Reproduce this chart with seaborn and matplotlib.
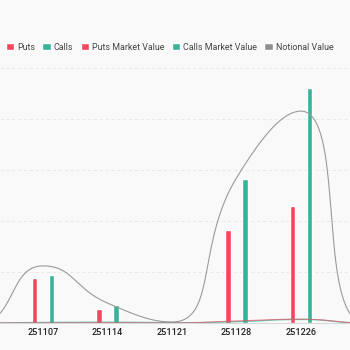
import numpy as np
import pandas as pd
import matplotlib
matplotlib.use("Agg")
import matplotlib.pyplot as plt
from matplotlib.patches import Patch
import seaborn as sns

# ---- data (the first two and last two expiries lie outside the visible zoom window) ----
expiries = ["251024", "251031", "251107", "251114", "251121", "251128", "251226", "260130", "260227"]
puts = [0, 0, 17.6, 5.5, 0, 36.5, 45.9, 0, 0]
calls = [0, 0, 18.8, 7.1, 0, 56.5, 92.2, 0, 0]
puts_mv = [0, 0, 0, 0.1, 0, 0.8, 1.5, 0, 0]
calls_mv = [0, 0, 0.2, 0.3, 0.1, 0.5, 1.4, 0, 0]
notional = [0, 0, 22.4, 7.8, 0.4, 56.9, 83.1, 0, 0]

RED = "#f6465d"
TEAL = "#38b39a"
GRAY = "#8f8f8f"
BG = "#f9f9f9"

sns.set_theme(style="white")
plt.rcParams["font.family"] = ["Roboto", "DejaVu Sans"]

fig = plt.figure(figsize=(3.5, 3.5), dpi=100, facecolor=BG)
ax = fig.add_axes([0, 27 / 350, 1, (323 - 68) / 350])
ax.set_facecolor(BG)

df = pd.DataFrame({
    "expiry": expiries * 2,
    "value": puts + calls,
    "type": ["Puts"] * len(expiries) + ["Calls"] * len(expiries),
})
sns.barplot(data=df, x="expiry", y="value", hue="type", order=expiries,
            hue_order=["Puts", "Calls"], palette=[RED, TEAL],
            width=0.528, gap=0.70, dodge=True, saturation=1,
            legend=False, ax=ax, zorder=3)

ax.set_xlim(1.333, 6.76)
ax.set_ylim(0, 100)
ax.set_yticks([20, 40, 60, 80, 100])
ax.set_yticklabels([])
ax.tick_params(axis="y", length=0)
ax.grid(axis="y", color="#e6e6e6", linestyle=(0, (4, 3)), linewidth=0.6, zorder=0)
ax.set_xlabel("")
ax.set_ylabel("")
for s in ["top", "right", "left"]:
    ax.spines[s].set_visible(False)
ax.spines["bottom"].set_color("#d9d9d9")
ax.spines["bottom"].set_linewidth(0.8)
ax.tick_params(axis="x", length=0, pad=3.5, labelsize=6.6, labelcolor="#222222")
for lab in ax.get_xticklabels():
    lab.set_fontweight("medium")


def smooth_curve(xs, ys, smooth=0.5, n=40):
    """ECharts-style smoothed bezier through the data points (in display space)."""
    pts = ax.transData.transform(np.column_stack([xs, ys]))
    out = [pts[0]]
    cp0 = pts[0]
    N = len(pts)
    for i in range(1, N):
        x, y = pts[i]
        px, py = pts[i - 1]
        if i == N - 1:
            cp1 = np.array([x, y])
            ncp0 = None
        else:
            nx, ny = pts[i + 1]
            vx, vy = nx - px, ny - py
            lp = np.hypot(x - px, y - py)
            ln = np.hypot(nx - x, ny - y)
            r = ln / (ln + lp)
            ncx = x + vx * smooth * r
            ncy = y + vy * smooth * r
            ncx = min(ncx, max(nx, x)); ncy = min(ncy, max(ny, y))
            ncx = max(ncx, min(nx, x)); ncy = max(ncy, min(ny, y))
            vx, vy = ncx - x, ncy - y
            c1x = x - vx * lp / ln
            c1y = y - vy * lp / ln
            c1x = min(c1x, max(px, x)); c1y = min(c1y, max(py, y))
            c1x = max(c1x, min(px, x)); c1y = max(c1y, min(py, y))
            vx, vy = x - c1x, y - c1y
            ncp0 = np.array([x + vx * ln / lp, y + vy * ln / lp])
            cp1 = np.array([c1x, c1y])
        t = np.linspace(0, 1, n)[1:, None]
        p0 = pts[i - 1]
        p3 = pts[i]
        seg = ((1 - t) ** 3) * p0 + 3 * ((1 - t) ** 2) * t * cp0 + 3 * (1 - t) * t ** 2 * cp1 + t ** 3 * p3
        out.extend(seg)
        cp0 = ncp0
    out = np.array(out)
    return ax.transData.inverted().transform(out)


xi = np.arange(len(expiries))
c = smooth_curve(xi, notional)
ax.plot(c[:, 0], c[:, 1], color="#9a9a9a", lw=0.8, zorder=4)
c = smooth_curve(xi, calls_mv)
ax.plot(c[:, 0], c[:, 1], color=TEAL, lw=1.0, alpha=0.7, zorder=4)
c = smooth_curve(xi, puts_mv)
ax.plot(c[:, 0], c[:, 1], color=RED, lw=0.7, alpha=0.7, zorder=4)

handles = [
    Patch(facecolor=RED, label="Puts"),
    Patch(facecolor=TEAL, label="Calls"),
    Patch(facecolor=RED, label="Puts Market Value"),
    Patch(facecolor=TEAL, label="Calls Market Value"),
    Patch(facecolor=GRAY, label="Notional Value"),
]
leg = fig.legend(handles=handles, loc="center", bbox_to_anchor=(0.485, 1 - 47 / 350),
                 ncol=5, frameon=False, fontsize=6.4, handlelength=0.95,
                 handleheight=0.95, handletextpad=0.35, columnspacing=0.8,
                 labelcolor="#444444", borderaxespad=0)

fig.savefig("out.png", dpi=100, facecolor=BG)
